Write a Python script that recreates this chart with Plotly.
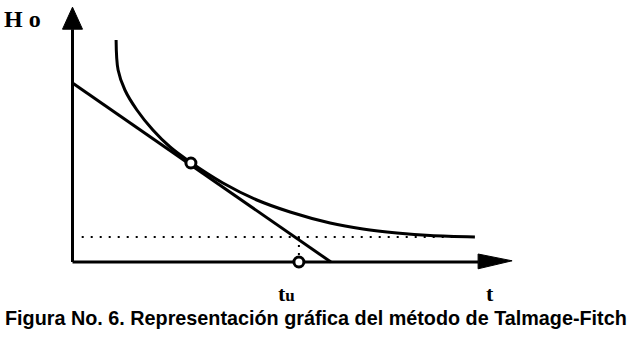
import plotly.graph_objects as go

# Curve (t, Ho)
curve_t = [1.09, 1.14, 1.31, 1.61, 2.01, 2.44, 2.94, 3.76, 4.61, 5.44, 6.44, 7.26, 8.11, 8.94, 10.06]
curve_h = [5.55, 4.80, 4.30, 3.80, 3.30, 2.875, 2.50, 1.975, 1.55, 1.25, 0.975, 0.825, 0.725, 0.66, 0.625]

# Tangent straight line
line_t = [0.0, 6.46]
line_h = [4.475, 0.0]

# Tangent point and tu
tan_t = [2.96]
tan_h = [2.475]
tu_t = 5.66
asym_h = 0.625
dot_t_start = 0.23
dot_t_end = 10.0

x_axis_end = 10.14
x_arrow_tip = 10.99
y_axis_end = 5.82
y_arrow_tip = 6.37

fig = go.Figure()

# dotted horizontal
fig.add_trace(go.Scatter(x=[dot_t_start, dot_t_end], y=[asym_h, asym_h], mode="lines",
                         line=dict(color="black", width=2, dash="2px,7px"), hoverinfo="skip"))
# dotted vertical
fig.add_trace(go.Scatter(x=[tu_t, tu_t], y=[asym_h, 0], mode="lines",
                         line=dict(color="black", width=2, dash="2px,6px"), hoverinfo="skip"))
# axes
fig.add_trace(go.Scatter(x=[0, 0, None, 0, x_axis_end], y=[y_axis_end, 0, None, 0, 0], mode="lines",
                         line=dict(color="black", width=3), hoverinfo="skip"))
# arrowheads
fig.add_trace(go.Scatter(x=[-0.25, 0.0, 0.25, -0.25], y=[y_axis_end, y_arrow_tip, y_axis_end, y_axis_end],
                         mode="lines", fill="toself", fillcolor="black",
                         line=dict(color="black", width=1), hoverinfo="skip"))
fig.add_trace(go.Scatter(x=[x_axis_end, x_arrow_tip, x_axis_end, x_axis_end], y=[0.2, 0.03, -0.17, 0.2],
                         mode="lines", fill="toself", fillcolor="black",
                         line=dict(color="black", width=1), hoverinfo="skip"))
# tangent line
fig.add_trace(go.Scatter(x=line_t, y=line_h, mode="lines",
                         line=dict(color="black", width=3), hoverinfo="skip"))
# curve
fig.add_trace(go.Scatter(x=curve_t, y=curve_h, mode="lines",
                         line=dict(color="black", width=3, shape="spline", smoothing=1.0), hoverinfo="skip"))
# markers
fig.add_trace(go.Scatter(x=tan_t + [tu_t], y=tan_h + [0], mode="markers",
                         marker=dict(symbol="circle", size=10, color="white",
                                     line=dict(color="black", width=3)), hoverinfo="skip"))

serif = "Liberation Serif"
fig.add_annotation(x=-1.24, y=6.07, text="<b>H o</b>", showarrow=False,
                   font=dict(family=serif, size=24, color="black"), xanchor="center", yanchor="middle")
fig.add_annotation(x=tu_t - 0.3, y=-0.78, text="<b>t</b><b><span style='font-size:17px'>u</span></b>",
                   showarrow=False, font=dict(family=serif, size=22, color="black"),
                   xanchor="center", yanchor="middle")
fig.add_annotation(x=10.44, y=-0.78, text="<b>t</b>", showarrow=False,
                   font=dict(family=serif, size=22, color="black"), xanchor="center", yanchor="middle")
fig.add_annotation(x=0.5008, y=0.073, xref="paper", yref="paper",
                   text="<b>Figura No. 6. Representación gráfica del método de Talmage-Fitch</b>",
                   showarrow=False, font=dict(family="Liberation Sans", size=19.8, color="black"),
                   xanchor="center", yanchor="middle")

fig.update_layout(width=631, height=343, margin=dict(l=0, r=0, t=0, b=0),
                  paper_bgcolor="white", plot_bgcolor="white", showlegend=False,
                  xaxis=dict(range=[-1.8125, 13.9625], visible=False, fixedrange=True),
                  yaxis=dict(range=[-2.025, 6.55], visible=False, fixedrange=True))

fig.write_html("out.html")
